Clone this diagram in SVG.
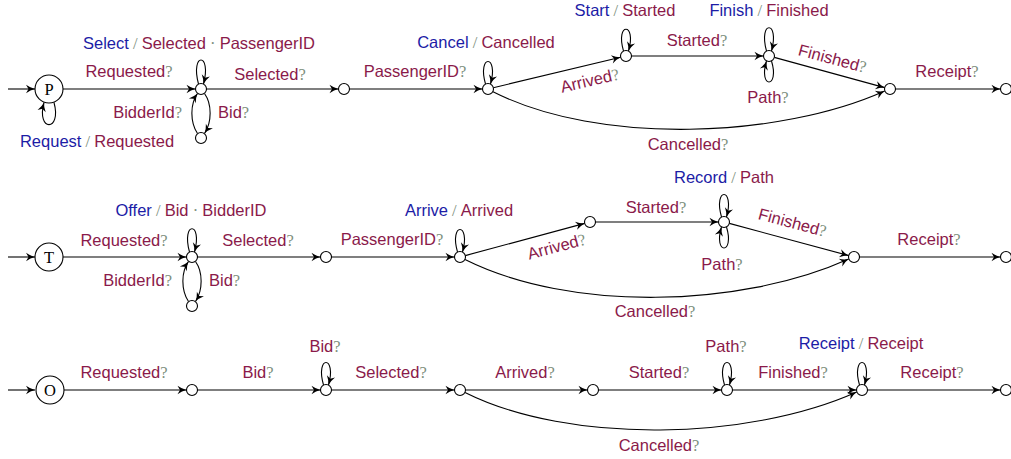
<svg xmlns="http://www.w3.org/2000/svg" width="1011" height="459" viewBox="0 0 1011 459">
<style>
text{font-family:"Liberation Sans","DejaVu Sans",sans-serif;font-size:16.5px;fill:#8a1a4a}
.b{fill:#1c1ca6}
.g{fill:#7d8f7d;font-family:"Liberation Serif","DejaVu Serif",serif}
.mid{text-anchor:middle}
.end{text-anchor:end}
.st{fill:#fff;stroke:#000;stroke-width:1.1}
.lab{font-family:"Liberation Serif","DejaVu Serif",serif;font-size:16.5px;font-weight:normal;fill:#000;text-anchor:middle}
.e{fill:none;stroke:#000;stroke-width:1.1;marker-end:url(#ah)}
</style>
<defs>
<marker id="ah" viewBox="-10 -5 12 10" markerWidth="12" markerHeight="10" refX="0" refY="0" orient="auto" markerUnits="userSpaceOnUse">
<path d="M-9,-4.2 Q-4.5,-1 0,0 Q-4.5,1 -9,4.2 L-6.5,0 Z" fill="#000"/>
</marker>
</defs>

<g id="connectors">
<!-- Row 1 -->
<path class="e" d="M8,89 L35,89"/>
<path class="e" d="M54,102.5 C62,132 36,132 44,102.5"/>
<path class="e" d="M63,89 L195.5,89"/>
<path class="e" d="M198.5,84 C190,52 212,52 203.5,84"/>
<path class="e" d="M197.5,133.5 C190,122 190,104 197.5,93.5"/>
<path class="e" d="M204.5,93.5 C212,104 212,122 204.5,133.5"/>
<path class="e" d="M206.5,89 L338.5,89"/>
<path class="e" d="M349.5,89 L482.5,89"/>
<path class="e" d="M485.5,84 C477,54 499,54 490.5,84"/>
<path class="e" d="M493.3,87.7 L620.6,57.3"/>
<path class="e" d="M623.5,51 C615,22 637,22 628.5,51"/>
<path class="e" d="M631.5,56 L763.5,56"/>
<path class="e" d="M766.5,51 C758,20 780,20 771.5,51"/>
<path class="e" d="M771.5,61 C780,89 758,89 766.5,61"/>
<path class="e" d="M774.3,57.4 L884.7,87.6"/>
<path class="e" d="M492.5,91.5 C600,146 780,138 884.7,91"/>
<path class="e" d="M895.5,89 L1000.5,89"/>
<!-- Row 2 -->
<path class="e" d="M8,257 L35,257"/>
<path class="e" d="M63,257 L186.5,257"/>
<path class="e" d="M189.5,252 C181,221 203,221 194.5,252"/>
<path class="e" d="M188.5,301.5 C181,290 181,272 188.5,261.5"/>
<path class="e" d="M195.5,261.5 C203,272 203,290 195.5,301.5"/>
<path class="e" d="M197.5,257 L320.5,257"/>
<path class="e" d="M331.5,257 L454.5,257"/>
<path class="e" d="M457.5,252 C449,222 471,222 462.5,252"/>
<path class="e" d="M465.3,255.6 L584.7,223.4"/>
<path class="e" d="M595.5,222 L718.5,222"/>
<path class="e" d="M721.5,217 C713,187 735,187 726.5,217"/>
<path class="e" d="M726.5,227 C735,255 713,255 721.5,227"/>
<path class="e" d="M729.3,223.4 L848.7,255.6"/>
<path class="e" d="M465,259.5 C570,312 740,308 848.7,259"/>
<path class="e" d="M859.5,257 L1000.5,257"/>
<!-- Row 3 -->
<path class="e" d="M8,390 L35,390"/>
<path class="e" d="M64,390 L186.5,390"/>
<path class="e" d="M197.5,390 L320.5,390"/>
<path class="e" d="M323.5,385 C315,355 337,355 328.5,385"/>
<path class="e" d="M331.5,390 L454.5,390"/>
<path class="e" d="M465.5,390 L587.5,390"/>
<path class="e" d="M598.5,390 L721.5,390"/>
<path class="e" d="M724.5,385 C716,355 738,355 729.5,385"/>
<path class="e" d="M732.5,390 L856.5,390"/>
<path class="e" d="M859.5,385 C851,355 873,355 864.5,385"/>
<path class="e" d="M465,392.5 C570,445 750,440 856.7,392"/>
<path class="e" d="M867.5,390 L1000.5,390"/>
</g>

<g id="row1">
<g id="n-P"><circle class="st" cx="49" cy="89" r="14"/><text class="lab" x="49" y="94.5">P</text></g>
<g id="n-P1"><circle class="st" cx="201" cy="89" r="5.5"/></g>
<g id="n-P1b"><circle class="st" cx="201" cy="138" r="5.5"/></g>
<g id="n-P2"><circle class="st" cx="344" cy="89" r="5.5"/></g>
<g id="n-P3"><circle class="st" cx="488" cy="89" r="5.5"/></g>
<g id="n-P4"><circle class="st" cx="626" cy="56" r="5.5"/></g>
<g id="n-P5"><circle class="st" cx="769" cy="56" r="5.5"/></g>
<g id="n-P6"><circle class="st" cx="890" cy="89" r="5.5"/></g>
<g id="n-P7"><circle class="st" cx="1006" cy="89" r="5.5"/></g>
</g>

<g id="row2">
<g id="n-T"><circle class="st" cx="49" cy="257" r="14"/><text class="lab" x="49" y="262.5">T</text></g>
<g id="n-T1"><circle class="st" cx="192" cy="257" r="5.5"/></g>
<g id="n-T1b"><circle class="st" cx="192" cy="306" r="5.5"/></g>
<g id="n-T2"><circle class="st" cx="326" cy="257" r="5.5"/></g>
<g id="n-T3"><circle class="st" cx="460" cy="257" r="5.5"/></g>
<g id="n-T4"><circle class="st" cx="590" cy="222" r="5.5"/></g>
<g id="n-T5"><circle class="st" cx="724" cy="222" r="5.5"/></g>
<g id="n-T6"><circle class="st" cx="854" cy="257" r="5.5"/></g>
<g id="n-T7"><circle class="st" cx="1006" cy="257" r="5.5"/></g>
</g>

<g id="row3">
<g id="n-O"><circle class="st" cx="50" cy="390" r="14"/><text class="lab" x="50" y="395.5">O</text></g>
<g id="n-O1"><circle class="st" cx="192" cy="390" r="5.5"/></g>
<g id="n-O2"><circle class="st" cx="326" cy="390" r="5.5"/></g>
<g id="n-O3"><circle class="st" cx="460" cy="390" r="5.5"/></g>
<g id="n-O4"><circle class="st" cx="593" cy="390" r="5.5"/></g>
<g id="n-O5"><circle class="st" cx="727" cy="390" r="5.5"/></g>
<g id="n-O6"><circle class="st" cx="862" cy="390" r="5.5"/></g>
<g id="n-O7"><circle class="st" cx="1006" cy="390" r="5.5"/></g>
</g>

<g id="labels">
<!-- Row 1 -->
<text class="mid" x="199" y="49"><tspan class="b">Select</tspan><tspan class="g"> / </tspan>Selected<tspan class="g"> · </tspan>PassengerID</text>
<text class="mid" x="129" y="77">Requested<tspan class="g">?</tspan></text>
<text class="mid" x="270" y="80">Selected<tspan class="g">?</tspan></text>
<text class="end" x="182" y="118">BidderId<tspan class="g">?</tspan></text>
<text x="218" y="118">Bid<tspan class="g">?</tspan></text>
<text class="mid" x="97" y="147"><tspan class="b">Request</tspan><tspan class="g"> / </tspan>Requested</text>
<text class="mid" x="486" y="48"><tspan class="b">Cancel</tspan><tspan class="g"> / </tspan>Cancelled</text>
<text class="mid" x="415" y="77">PassengerID<tspan class="g">?</tspan></text>
<text class="mid" x="625" y="16"><tspan class="b">Start</tspan><tspan class="g"> / </tspan>Started</text>
<text class="mid" x="697" y="46">Started<tspan class="g">?</tspan></text>
<text class="mid" x="769" y="16"><tspan class="b">Finish</tspan><tspan class="g"> / </tspan>Finished</text>
<text class="mid" x="768" y="103">Path<tspan class="g">?</tspan></text>
<text class="mid" x="591" y="86" transform="rotate(-13 591 86)">Arrived<tspan class="g">?</tspan></text>
<text class="mid" x="831" y="64" transform="rotate(15 831 64)">Finished<tspan class="g">?</tspan></text>
<text class="mid" x="947" y="77">Receipt<tspan class="g">?</tspan></text>
<text class="mid" x="688" y="150">Cancelled<tspan class="g">?</tspan></text>
<!-- Row 2 -->
<text class="mid" x="191" y="216"><tspan class="b">Offer</tspan><tspan class="g"> / </tspan>Bid<tspan class="g"> · </tspan>BidderID</text>
<text class="mid" x="124" y="246">Requested<tspan class="g">?</tspan></text>
<text class="mid" x="258" y="246">Selected<tspan class="g">?</tspan></text>
<text class="end" x="172" y="286">BidderId<tspan class="g">?</tspan></text>
<text x="209" y="286">Bid<tspan class="g">?</tspan></text>
<text class="mid" x="459" y="216"><tspan class="b">Arrive</tspan><tspan class="g"> / </tspan>Arrived</text>
<text class="mid" x="392" y="245">PassengerID<tspan class="g">?</tspan></text>
<text class="mid" x="558" y="252" transform="rotate(-15 558 252)">Arrived<tspan class="g">?</tspan></text>
<text class="mid" x="656" y="213">Started<tspan class="g">?</tspan></text>
<text class="mid" x="724" y="183"><tspan class="b">Record</tspan><tspan class="g"> / </tspan>Path</text>
<text class="mid" x="722" y="270">Path<tspan class="g">?</tspan></text>
<text class="mid" x="791" y="228" transform="rotate(15 791 228)">Finished<tspan class="g">?</tspan></text>
<text class="mid" x="929" y="245">Receipt<tspan class="g">?</tspan></text>
<text class="mid" x="655" y="317">Cancelled<tspan class="g">?</tspan></text>
<!-- Row 3 -->
<text class="mid" x="124" y="378">Requested<tspan class="g">?</tspan></text>
<text class="mid" x="258" y="378">Bid<tspan class="g">?</tspan></text>
<text class="mid" x="325" y="352">Bid<tspan class="g">?</tspan></text>
<text class="mid" x="391" y="378">Selected<tspan class="g">?</tspan></text>
<text class="mid" x="525" y="378">Arrived<tspan class="g">?</tspan></text>
<text class="mid" x="659" y="378">Started<tspan class="g">?</tspan></text>
<text class="mid" x="726" y="352">Path<tspan class="g">?</tspan></text>
<text class="mid" x="793" y="378">Finished<tspan class="g">?</tspan></text>
<text class="mid" x="861" y="349"><tspan class="b">Receipt</tspan><tspan class="g"> / </tspan>Receipt</text>
<text class="mid" x="932" y="378">Receipt<tspan class="g">?</tspan></text>
<text class="mid" x="659" y="451">Cancelled<tspan class="g">?</tspan></text>
</g>
</svg>
